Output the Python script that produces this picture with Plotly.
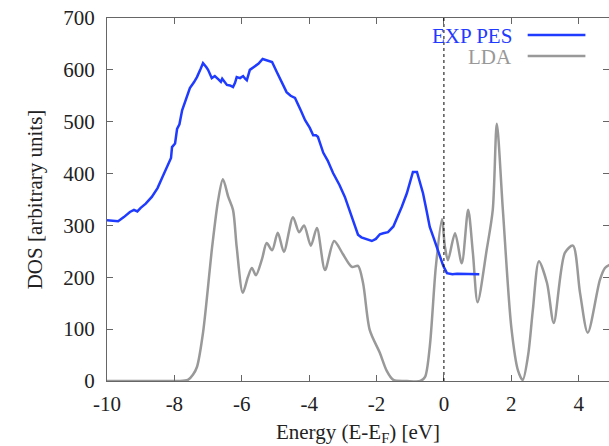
import plotly.graph_objects as go

# EXP PES (experimental photoemission)
pes_x = [-10.0, -9.8, -9.67, -9.5, -9.32, -9.2, -9.1, -9.0, -8.85, -8.67, -8.5, -8.37, -8.19,
         -8.1, -8.07, -7.98, -7.92, -7.85, -7.77, -7.65, -7.54, -7.42, -7.33, -7.22, -7.15,
         -7.05, -7.0, -6.89, -6.8, -6.7, -6.62, -6.58, -6.5, -6.44, -6.35, -6.26, -6.2,
         -6.15, -6.05, -5.96, -5.9, -5.85, -5.76, -5.61, -5.5, -5.38, -5.26, -5.15, -5.1,
         -4.96, -4.8, -4.67, -4.55, -4.42, -4.25, -4.12, -3.98, -3.88, -3.80, -3.74, -3.58,
         -3.45, -3.29, -3.1, -2.94, -2.8, -2.7, -2.55, -2.45, -2.35, -2.22, -2.14, -2.02,
         -1.9, -1.8, -1.66, -1.5, -1.39, -1.25, -1.1, -1.0, -0.92, -0.8, -0.72, -0.62,
         -0.52, -0.42, -0.3, -0.12, -0.02, 0.09, 0.25, 0.39, 0.7, 1.05]
pes_y = [310, 309, 308, 316, 326, 330, 327, 334, 342, 355, 372, 391, 416,
         430, 451, 458, 486, 495, 522, 545, 565, 576, 586, 602, 613,
         605, 600, 584, 588, 582, 577, 583, 575, 571, 570, 567, 575,
         586, 584, 588, 583, 580, 600, 606, 612, 621, 619, 617, 615,
         596, 575, 557, 550, 546, 522, 503, 488, 474, 474, 471, 440,
         425, 401, 378, 355, 330, 310, 282, 277, 275, 272, 270, 274,
         283, 285, 287, 298, 314, 336, 362, 385, 403, 403, 385, 362,
         330, 297, 275, 239, 222, 208, 206, 207, 207, 206]

# LDA (calculated DOS)
lda_x = [-10.0, -8.5, -7.9, -7.6, -7.45, -7.33, -7.15, -6.88, -6.7, -6.56, -6.4, -6.26, -6.15,
         -5.97, -5.82, -5.7, -5.58, -5.4, -5.26, -5.1, -4.93, -4.75, -4.48, -4.3, -4.15,
         -3.95, -3.77, -3.53, -3.26, -3.0, -2.73, -2.55, -2.4, -2.2, -1.9, -1.7, -1.5,
         -1.1, -0.7, -0.56, -0.42, -0.24, -0.06, 0.03, 0.12, 0.33, 0.53, 0.72, 0.86, 1.0,
         1.27, 1.45, 1.57, 1.75, 2.0, 2.2, 2.34, 2.5, 2.64, 2.82, 3.06, 3.26, 3.59, 3.83,
         4.04, 4.27, 4.63, 4.78, 4.95]
lda_y = [0, 0, 0, 2, 12, 27, 93, 258, 349, 389, 355, 330, 258,
         170, 200, 218, 204, 235, 266, 252, 286, 249, 316, 287, 300,
         261, 295, 214, 270, 245, 220, 222, 189, 98, 54, 20, 2,
         0, 0, 8, 66, 220, 312, 259, 233, 285, 227, 330, 247, 152,
         253, 330, 496, 330, 104, 20, 2, 50, 137, 231, 189, 112, 247, 261,
         170, 93, 195, 218, 225]

blue = "#1f3bff"
gray = "#999999"
font = "Liberation Serif, Times New Roman, serif"

fig = go.Figure()
fig.add_trace(go.Scatter(x=lda_x, y=lda_y, mode="lines", name="LDA",
                         line=dict(color=gray, width=2.5, shape="spline", smoothing=0.8)))
fig.add_trace(go.Scatter(x=pes_x, y=pes_y, mode="lines", name="EXP PES",
                         line=dict(color=blue, width=2.5)))

# Fermi level marker
fig.add_shape(type="line", xref="x", yref="y", x0=0, x1=0, y0=0, y1=700,
              line=dict(color="black", width=1, dash="dot"))

# gnuplot-style legend (text then sample line)
fig.add_annotation(xref="paper", yref="paper", x=0.8104, y=0.95, xanchor="right", yanchor="middle",
                   text="EXP PES", showarrow=False, font=dict(family=font, size=21, color=blue))
fig.add_annotation(xref="paper", yref="paper", x=0.8104, y=0.893, xanchor="right", yanchor="middle",
                   text="LDA", showarrow=False, font=dict(family=font, size=21, color=gray))
fig.add_shape(type="line", xref="paper", yref="paper", x0=0.838, x1=0.953, y0=0.953, y1=0.953,
              line=dict(color=blue, width=2.5))
fig.add_shape(type="line", xref="paper", yref="paper", x0=0.838, x1=0.953, y0=0.895, y1=0.895,
              line=dict(color=gray, width=2.5))

axis_common = dict(showline=True, linecolor="#666666", linewidth=1.2, mirror="ticks",
                   ticks="inside", ticklen=6, tickcolor="#666666", showgrid=False,
                   zeroline=False, automargin=False,
                   tickfont=dict(family=font, size=21, color="#222222"))

fig.update_xaxes(range=[-10, 4.9], tickvals=[-10, -8, -6, -4, -2, 0, 2, 4],
                 ticktext=["-10", "-8", "-6", "-4", "-2", "0", "2", "4"],
                 ticklabelstandoff=4,
                 title=dict(text="Energy (E-E<sub>F</sub>) [eV]", font=dict(family=font, size=21, color="#222222"),
                            standoff=17),
                 **axis_common)
fig.update_yaxes(range=[0, 700], tickvals=[0, 100, 200, 300, 400, 500, 600, 700],
                 ticklabelstandoff=7,
                 title=dict(text="DOS [arbitrary units]", font=dict(family=font, size=21, color="#222222"),
                            standoff=14),
                 **axis_common)

fig.update_layout(width=609, height=446, margin=dict(l=107, r=0, t=18, b=65),
                  plot_bgcolor="white", paper_bgcolor="white", showlegend=False)

fig.write_html("out.html", config={"displayModeBar": False},
               post_script="document.body.style.margin='0';document.body.style.overflow='hidden';")
